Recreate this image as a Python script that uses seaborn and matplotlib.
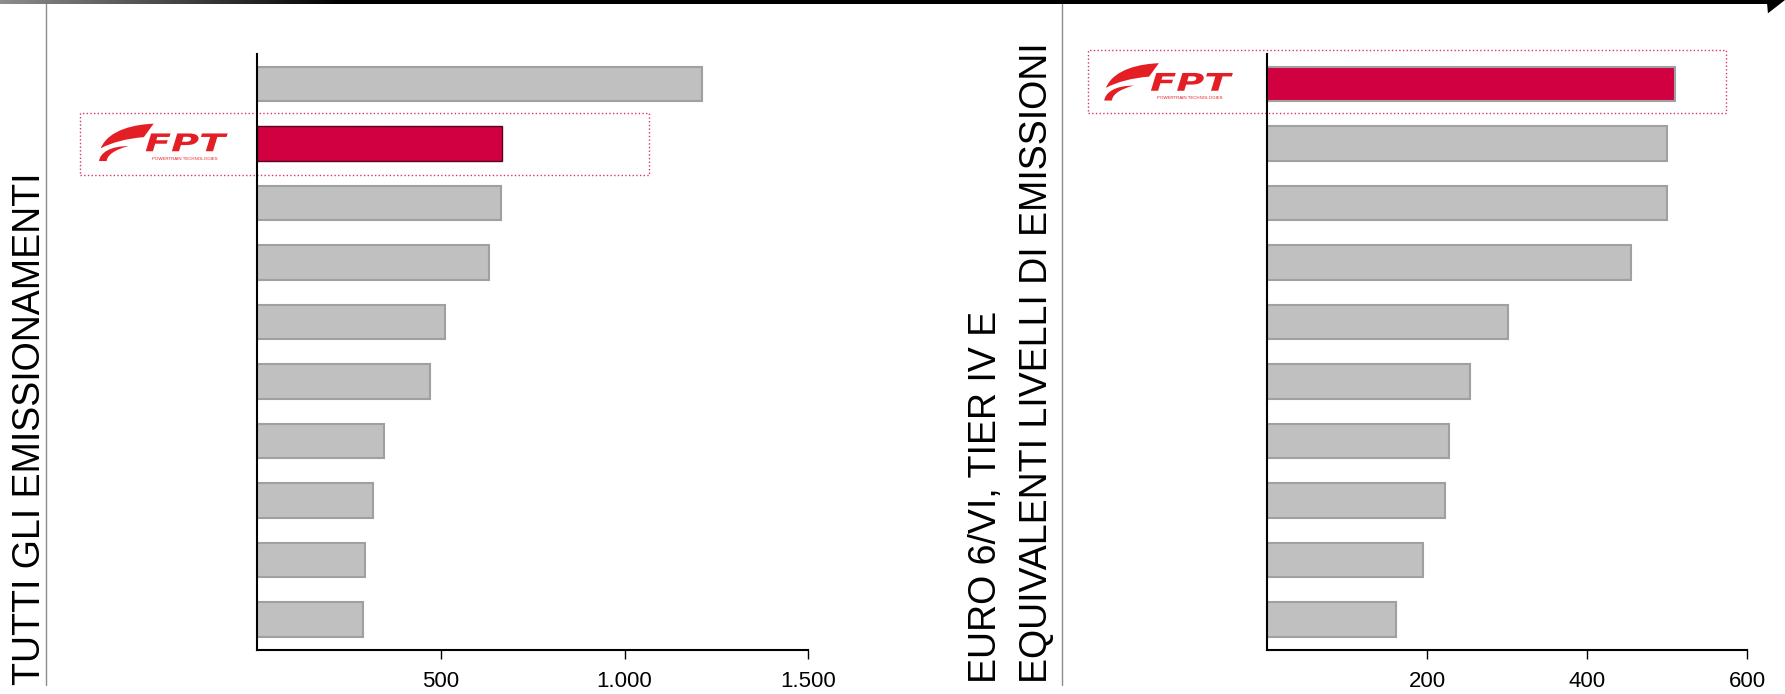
import numpy as np
import pandas as pd
import matplotlib.pyplot as plt
import seaborn as sns
from matplotlib.path import Path
from matplotlib.patches import PathPatch, Rectangle, Polygon
from matplotlib.textpath import TextPath
from matplotlib.font_manager import FontProperties
from matplotlib.transforms import Affine2D
from matplotlib.ticker import FuncFormatter

# data
left_names = ["Concorrente 1", "FPT", "Concorrente 2", "Concorrente 3", "Concorrente 4",
              "Concorrente 5", "Concorrente 6", "Concorrente 7", "Concorrente 8", "Concorrente 9"]
left_values = [1212, 666, 663, 632, 511, 471, 344, 316, 294, 288]
left_ticks = [500, 1000, 1500]

right_names = ["FPT", "Concorrente 1", "Concorrente 2", "Concorrente 3", "Concorrente 4",
               "Concorrente 5", "Concorrente 6", "Concorrente 7", "Concorrente 8", "Concorrente 9"]
right_values = [510, 500, 499, 454, 301, 253, 227, 222, 195, 161]
right_ticks = [200, 400, 600]

left_title = "TUTTI GLI EMISSIONAMENTI"
right_title = ["EURO 6/VI, TIER IV E", "EQUIVALENTI LIVELLI DI EMISSIONI"]
logo_text = "FPT"
logo_sub = "POWERTRAIN TECHNOLOGIES"

GREY = "#C0C0C0"
GREY_EDGE = "#A0A0A0"
FPT_RED = "#D10041"
LOGO_RED = "#E31E24"
BOX_COL = "#D9346E"

sns.set_theme(style="white")
plt.rcParams['font.family'] = ['Liberation Sans', 'DejaVu Sans']

fig = plt.figure(figsize=(17.85, 6.94), dpi=100)

# layout grid (measured units), y counted from top
W, H = 1568, 1560


def Y(v):
    return H - v


deco = fig.add_axes([0, 0, 1, 1], zorder=0)


def draw_chart(rect, names, values, ticks, xmax):
    ax = fig.add_axes(rect, zorder=1)
    ax.set_facecolor("none")
    df = pd.DataFrame({"name": names, "value": values})
    colors = [FPT_RED if n == "FPT" else GREY for n in names]
    sns.barplot(data=df, y="name", x="value", hue="name", palette=colors,
                legend=False, orient="h", width=0.58, saturation=1, ax=ax)
    for p, n in zip(ax.patches, names):
        if n == "FPT":
            p.set_edgecolor("#5A0022" if rect[0] < 0.5 else GREY_EDGE)
            p.set_linewidth(1.0 if rect[0] < 0.5 else 1.5)
        else:
            p.set_edgecolor(GREY_EDGE)
            p.set_linewidth(1.5)
    ax.set_ylim(len(names) - 0.5, -0.5)
    ax.set_xlim(0, xmax)
    ax.set_xticks(ticks)
    ax.xaxis.set_major_formatter(FuncFormatter(lambda v, _: f"{v:,.0f}".replace(",", ".")))
    ax.set_yticks([])
    ax.set_xlabel("")
    ax.set_ylabel("")
    for s in ["top", "right"]:
        ax.spines[s].set_visible(False)
    for s in ["left", "bottom"]:
        ax.spines[s].set_color("black")
        ax.spines[s].set_linewidth(1.5)
    ax.tick_params(axis="x", direction="out", length=6.5, width=1, color="black",
                   pad=9, labelsize=16, labelcolor="black", bottom=True)
    return ax


ax1 = draw_chart([226 / W, 1 - 1460 / H, (710 - 226) / W, (1460 - 122) / H],
                 left_names, left_values, left_ticks, 1500)
ax2 = draw_chart([1113 / W, 1 - 1460 / H, (1535 - 1113) / W, (1460 - 122) / H],
                 right_names, right_values, right_ticks, 600)

# top arrow with gradient on the left
g = np.clip(np.linspace(0, 1553 / 300, 600), 0, 1)
deco.imshow((0.55 * (1 - g))[None, :], extent=[0, 1553, Y(10), Y(0)], cmap="gray",
            vmin=0, vmax=1, aspect="auto", interpolation="bilinear")
deco.add_patch(Polygon([(1552, Y(0)), (1568, Y(0)), (1553, Y(30))],
                       closed=True, color="black", lw=0))

# separators
for xs in [40, 933]:
    deco.plot([xs, xs], [Y(10), Y(1540)], color="#8C8C8C", lw=1)

# highlight boxes
deco.add_patch(Rectangle((70, Y(393)), 500, 140, fill=False, ls=":", lw=1, edgecolor=BOX_COL))
deco.add_patch(Rectangle((956, Y(253)), 560, 141, fill=False, ls=":", lw=1, edgecolor=BOX_COL))


def draw_logo(x0, y0):
    sw, sh = 48, 84

    def pt(u, v):
        return (x0 + u * sw, Y(y0 + sh) + v * sh)

    codes = ([Path.MOVETO] + [Path.CURVE4] * 6 + [Path.LINETO, Path.CLOSEPOLY])
    blade = [pt(1.0, 1.0), pt(0.68, 0.98), pt(0.18, 0.86), pt(0.03, 0.34),
             pt(0.24, 0.50), pt(0.50, 0.60), pt(0.82, 0.64), pt(1.0, 1.0), pt(1.0, 1.0)]
    deco.add_patch(PathPatch(Path(blade, codes), color=LOGO_RED, lw=0))
    hook = [pt(0.0, 0.0), pt(0.02, 0.22), pt(0.20, 0.40), pt(0.54, 0.40),
            pt(0.28, 0.30), pt(0.15, 0.16), pt(0.14, 0.0), pt(0.0, 0.0), pt(0.0, 0.0)]
    deco.add_patch(PathPatch(Path(hook, codes), color=LOGO_RED, lw=0))

    tp = TextPath((0, 0), logo_text, size=10,
                  prop=FontProperties(family="DejaVu Sans", weight="bold", style="italic"))
    ext = tp.get_extents()
    tr = (Affine2D().translate(-ext.x0, -ext.y0)
          .scale(72 / ext.width, 40 / ext.height)
          .translate(x0 + 41, Y(y0 + 62)))
    deco.add_patch(PathPatch(tr.transform_path(tp), color=LOGO_RED, lw=0))
    deco.text(x0 + 75, Y(y0 + 79), logo_sub, fontsize=3.2, color=LOGO_RED,
              ha="center", va="center")


draw_logo(87, 278)
draw_logo(970, 142)

deco.set_xlim(0, W)
deco.set_ylim(0, H)
deco.axis("off")

# rotated titles
fig.text(26 / W, 1 - 1540 / H, left_title, rotation=90, ha="center", va="bottom",
         fontsize=27, color="black")
fig.text(866 / W, 1 - 1535 / H, right_title[0], rotation=90, ha="center", va="bottom",
         fontsize=27, color="black")
fig.text(911 / W, 1 - 1535 / H, right_title[1], rotation=90, ha="center", va="bottom",
         fontsize=27, color="black")

fig.savefig("out.png", dpi=100)
